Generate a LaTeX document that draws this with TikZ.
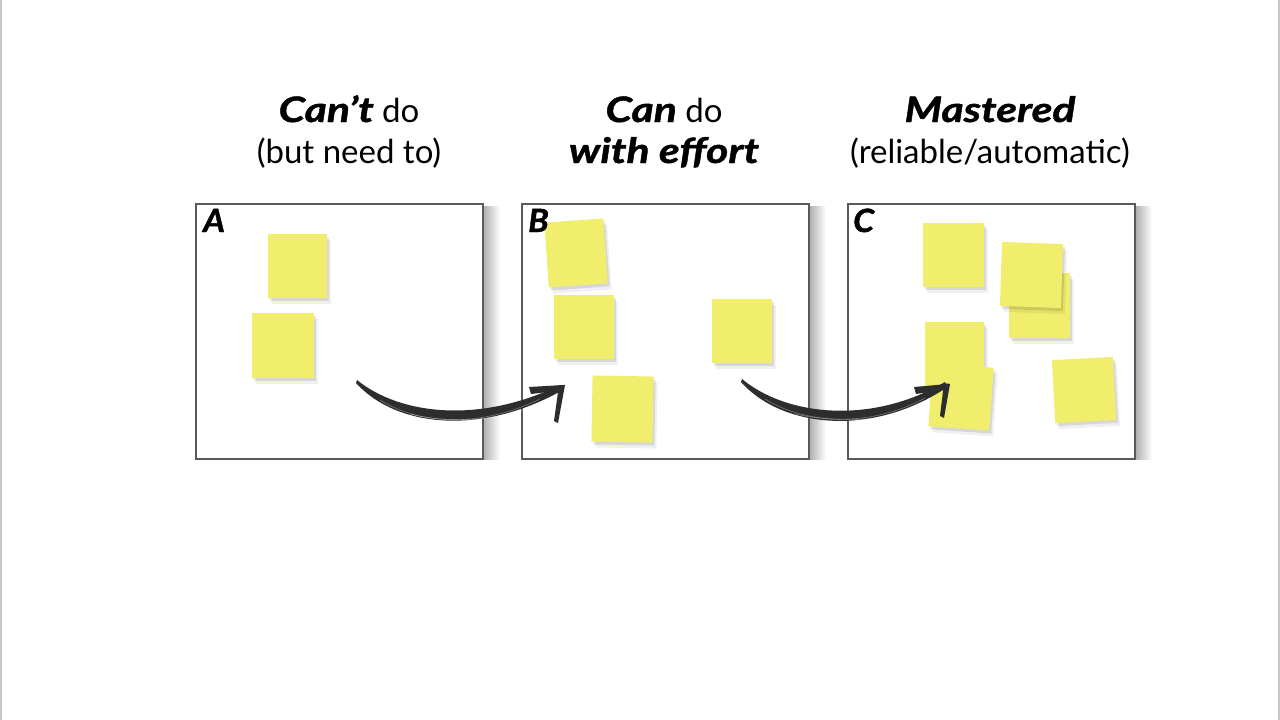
\documentclass[tikz,border=0pt]{standalone}
\usepackage{fontspec}
\setmainfont{Lato}
\newfontfamily\hvy{Lato}[FakeStretch=1.22,FakeBold=1.3]
\newfontfamily\hvyl{Lato}[FakeStretch=1.05,FakeBold=1.3]
\usetikzlibrary{shadows}
\definecolor{note}{RGB}{240,238,108}
\definecolor{frame}{RGB}{90,90,90}
\definecolor{ink}{RGB}{45,45,45}
\newcommand\emb[1]{{\fontsize{35}{41}\hvy\bfseries\itshape #1}}
\begin{document}
\begin{tikzpicture}[x=1pt,y=-1pt,
  panel/.style={draw=frame,line width=2pt,fill=white,minimum width=287pt,minimum height=255pt,inner sep=0pt},
  sidegap/.style={left color=black!30,right color=white},
  sticky/.style={fill=note,inner sep=0pt,
    general shadow={fill=black,opacity=.10,shadow xshift=2pt,shadow yshift=-3pt},
    general shadow={fill=black,opacity=.06,shadow xshift=4pt,shadow yshift=-6pt}},
  head/.style={anchor=base,inner sep=0pt,font=\fontsize{33}{41}\selectfont},
  letter/.style={anchor=base west,inner sep=0pt,font=\fontsize{32}{32}\selectfont\hvyl\bfseries\itshape},
  brush/.style={fill=ink},
  streak/.style={draw=white,opacity=.35,line width=.6pt},
  edge/.style={draw=black!22,line width=2pt}]
\useasboundingbox (0,0) rectangle (1280,720);
\fill[white] (0,0) rectangle (1280,720);
\draw[edge] (1,0) -- (1,720);
\draw[edge] (1279,0) -- (1279,720);

% headers
\node[head] (hA1) at (349,122) {\emb{Can’t} do};
\node[head] (hA2) at (349,163) {(but need to)};
\node[head] (hB1) at (664,122) {\emb{Can} do};
\node[head] (hB2) at (664,163) {\emb{with effort}};
\node[head] (hC1) at (990,122) {\emb{Mastered}};
\node[head] (hC2) at (990,163) {(reliable/automatic)};

% panel side shadows
\shade[sidegap] (484,206) rectangle (500,459);
\shade[sidegap] (810,206) rectangle (826,459);
\shade[sidegap] (1136,206) rectangle (1152,459);

% panels
\node[panel] (A) at (339.5,331.5) {};
\node[panel] (B) at (665.5,331.5) {};
\node[panel] (C) at (991.5,331.5) {};

% sticky notes A
\node[sticky,minimum width=59pt,minimum height=64pt] (a1) at (297.5,266) {};
\node[sticky,minimum width=62pt,minimum height=65pt] (a2) at (283,345.5) {};
% sticky notes B
\node[sticky,minimum width=59pt,minimum height=65pt,rotate=4] (b1) at (576,253) {};
\node[sticky,minimum width=60pt,minimum height=64pt] (b2) at (584,327) {};
\node[sticky,minimum width=60pt,minimum height=64pt] (b3) at (742,331) {};
\node[sticky,minimum width=61pt,minimum height=66pt,rotate=-1] (b4) at (622.5,409) {};
% sticky notes C
\node[sticky,minimum width=61pt,minimum height=64pt] (c1) at (953.5,255) {};
\node[sticky,minimum width=61pt,minimum height=65pt] (c2) at (1039.5,305.5) {};
\node[sticky,minimum width=61pt,minimum height=64pt,rotate=-2] (c3) at (1031.5,275) {};
\node[sticky,minimum width=59pt,minimum height=65pt] (c4) at (954.5,354.5) {};
\node[sticky,minimum width=61pt,minimum height=63pt,rotate=-4] (c5) at (961,397) {};
\node[sticky,minimum width=61pt,minimum height=63pt,rotate=3] (c6) at (1084,390) {};

% panel letters
\node[letter] (lA) at (203,232) {A};
\node[letter] (lB) at (528,232) {B};
\node[letter] (lC) at (853,232) {C};

% brush arrow A -> B
\coordinate (s1) at (357,380);
\coordinate (e1) at (563,385);
\fill[brush] (s1) .. controls (400,415) and (480,424) .. (560,385)
  -- (561,391) .. controls (480,436) and (396,427) .. (356,383) -- cycle;
\draw[streak] (380,400) .. controls (420,425) and (480,428) .. (540,399);
\draw[streak] (410,414) .. controls (450,424) and (500,420) .. (530,408);
\fill[brush] (529,387) -- (e1) -- (564,390) -- (531,394) -- cycle;
\fill[brush] (559,385) -- (565,385) -- (558,423) -- (554,421) -- cycle;

% brush arrow B -> C
\coordinate (s2) at (742,379);
\coordinate (e2) at (948,384);
\fill[brush] (s2) .. controls (785,415) and (870,426) .. (945,382)
  -- (946,388) .. controls (870,438) and (781,427) .. (741,382) -- cycle;
\draw[streak] (765,399) .. controls (805,424) and (870,428) .. (925,398);
\draw[streak] (795,414) .. controls (840,424) and (890,420) .. (915,408);
\fill[brush] (914,387) -- (e2) -- (949,389) -- (916,394) -- cycle;
\fill[brush] (944,383) -- (950,384) -- (944,418) -- (940,416) -- cycle;
\end{tikzpicture}
\end{document}
